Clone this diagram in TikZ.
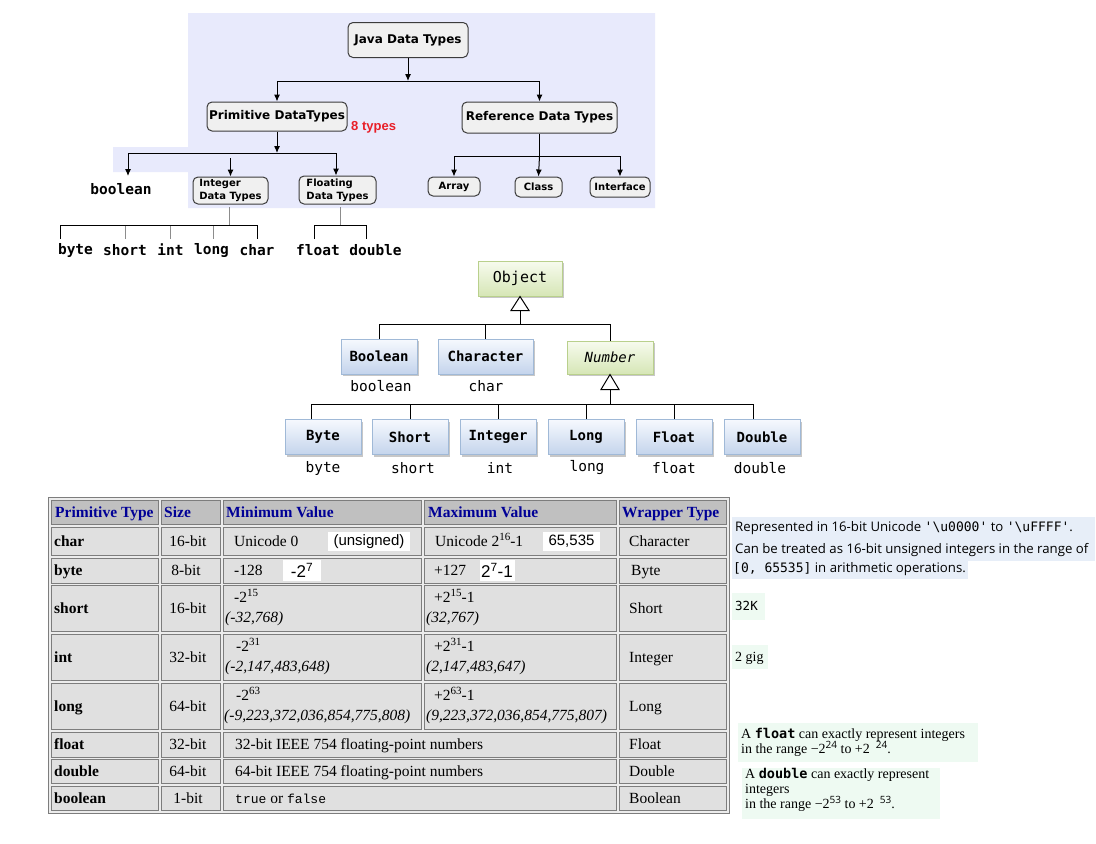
\documentclass[tikz,border=0pt]{standalone}
\usepackage{fontspec}
\setmainfont{Liberation Serif}
\newfontfamily\jtah{DejaVu Sans}
\newfontfamily\jmono{DejaVu Sans Mono}
\newfontfamily\jarial{Liberation Sans}
\newfontfamily\jseg{Open Sans}
\newfontfamily\jcour{Liberation Mono}
\usetikzlibrary{arrows.meta,shadows}
\newcommand{\jfs}[2]{\fontsize{#1}{#2}\selectfont}
\newcommand{\jsup}[1]{\raisebox{5.5pt}{\jfs{11}{11}#1}}
\newcommand{\jnsup}[1]{\raisebox{5pt}{\jseg\jfs{10}{10}#1}}
\definecolor{lav}{RGB}{232,234,252}
\definecolor{tbfill}{RGB}{240,240,240}
\definecolor{tbdraw}{RGB}{60,60,60}
\definecolor{eightred}{RGB}{232,30,40}
\definecolor{bluebd}{RGB}{160,185,215}
\definecolor{bluetop}{RGB}{246,249,254}
\definecolor{bluebot}{RGB}{196,212,236}
\definecolor{greenbd}{RGB}{185,208,140}
\definecolor{greentop}{RGB}{247,251,238}
\definecolor{greenbot}{RGB}{214,230,182}
\definecolor{hdrgray}{RGB}{192,192,192}
\definecolor{cellgray}{RGB}{224,224,224}
\definecolor{cellbd}{RGB}{125,125,125}
\definecolor{tblbg}{RGB}{236,236,236}
\definecolor{navy}{RGB}{0,0,150}
\definecolor{annblue}{RGB}{231,238,248}
\definecolor{mint}{RGB}{238,250,242}
\begin{document}
\begin{tikzpicture}[x=1pt,y=-1pt,
  ln/.style={line width=1pt, black},
  gln/.style={line width=1pt, black!45},
  arr/.style={line width=1pt, -{Latex[length=7pt,width=6pt]}},
  tbox/.style={draw=tbdraw, fill=tbfill, rounded corners=5pt, line width=1pt, inner sep=0pt, font=\jtah\bfseries\jfs{12}{13}, align=center},
  sbox/.style={tbox, font=\jtah\bfseries\jfs{10}{13}, align=left},
  tlbl/.style={font=\jmono\bfseries\jfs{14.5}{16}, inner sep=1pt},
  ubox/.style={draw=bluebd, top color=bluetop, bottom color=bluebot, line width=1pt, inner sep=0pt, minimum height=35pt, font=\jmono\bfseries\jfs{14}{16}, drop shadow={shadow xshift=2pt, shadow yshift=-2pt, fill=black, opacity=0.22}},
  gbox/.style={ubox, draw=greenbd, top color=greentop, bottom color=greenbot},
  ulbl/.style={font=\jmono\jfs{14.5}{16}, inner sep=1pt},
  tri/.style={draw, fill=white, line width=1pt},
  hcell/.style={fill=hdrgray, draw=cellbd, line width=1pt},
  dcell/.style={fill=cellgray, draw=cellbd, line width=1pt},
  thead/.style={anchor=base west, inner sep=0pt, font=\bfseries\jfs{15.5}{18}, text=navy},
  tdata/.style={anchor=base west, inner sep=0pt, font=\jfs{15.5}{18}},
  tbold/.style={tdata, font=\bfseries\jfs{15.5}{18}},
  tital/.style={tdata, font=\itshape\jfs{15.5}{18}},
  tsize/.style={anchor=base, inner sep=0pt, font=\jfs{15.5}{18}},
  wpatch/.style={fill=white, inner sep=0pt, font=\jarial\jfs{15}{17}},
  note/.style={anchor=base west, inner sep=0pt, font=\jfs{14}{15}},
  ann/.style={anchor=base west, inner sep=0pt, font=\jseg\jfs{13.2}{14}}
]
\useasboundingbox (0,0) rectangle (1096,844);
\fill[white] (0,0) rectangle (1096,844);

% ===== top tree =====
\fill[lav] (188,13) -- (655,13) -- (655,208) -- (188,208) -- (188,172) -- (113,172) -- (113,147) -- (188,147) -- cycle;

\node[tbox, minimum width=120pt, minimum height=35pt] (java) at (408,40) {Java Data Types};
\node[tbox, minimum width=140pt, minimum height=29pt] (prim) at (277,116.5) {Primitive DataTypes};
\node[tbox, minimum width=155pt, minimum height=31pt] (ref) at (539.5,117.5) {Reference Data Types};
\node[anchor=west, inner sep=0pt, font=\jarial\bfseries\jfs{13}{15}, text=eightred] (eight) at (351,127) {8 types};

\node[sbox, minimum width=75pt, minimum height=27pt] (intb) at (230.5,190.5) {Integer\\Data Types};
\node[sbox, minimum width=77pt, minimum height=28pt] (fltb) at (337.5,190) {Floating\\Data Types};
\node[sbox, minimum width=52pt, minimum height=19pt] (arrb) at (454,186.5) {Array};
\node[sbox, minimum width=47pt, minimum height=20pt] (clsb) at (538.5,187) {Class};
\node[sbox, minimum width=60pt, minimum height=20pt] (intf) at (620,187) {Interface};
\node[tlbl] (boolw) at (121,189) {boolean};

\coordinate (j1) at (408,81);
\draw[arr] (java.south) -- (j1);
\draw[ln] (prim.north |- j1) -- (ref.north |- j1);
\draw[arr] (prim.north |- j1) -- (prim.north);
\draw[arr] (ref.north |- j1) -- (ref.north);

\coordinate (p1) at (277,153);
\coordinate (pl) at (128,153);
\coordinate (pr) at (336,153);
\coordinate (btip) at (128,176);
\coordinate (i0) at (230.5,158);
\draw[arr] (prim.south) -- (p1);
\draw[ln] (pl) -- (pr);
\draw[arr] (pl) -- (btip);
\draw[arr] (i0) -- (intb.north);
\draw[arr] (pr) -- (pr |- fltb.north);

\coordinate (r1) at (539.5,156);
\draw[ln] (ref.south) -- (r1);
\draw[ln] (arrb.north |- r1) -- (intf.north |- r1);
\draw[arr] (arrb.north |- r1) -- (arrb.north);
\draw[arr] (r1) -- (clsb.north);
\draw[arr] (intf.north |- r1) -- (intf.north);

% integer subtree
\node[tlbl] (lbyte) at (75.5,250) {byte};
\node[tlbl] (lshort) at (125,250) {short};
\node[tlbl] (lint) at (170.5,250) {int};
\node[tlbl] (llong) at (211.5,250) {long};
\node[tlbl] (lchar) at (257,250) {char};
\coordinate (ih) at (229,225);
\draw[gln] (229,207) -- (ih);
\draw[ln] (60,225) -- (257,225);
\draw[ln] (60,225) -- (60,239);
\draw[ln] (257,225) -- (257,239);
\draw[gln] (125,226) -- (125,239);
\draw[gln] (170,226) -- (170,239);
\draw[gln] (213,226) -- (213,239);
% float subtree
\node[tlbl] (lfloat) at (318,250) {float};
\node[tlbl] (ldouble) at (375.5,250) {double};
\coordinate (fh) at (340,225);
\draw[gln] (340,207) -- (fh);
\draw[ln] (314,239) -- (314,225) -- (366,225) -- (366,239);

% ===== UML =====
\node[gbox, minimum width=84pt, font=\jmono\jfs{15}{17}] (obj) at (520,278.5) {Object};
\node[ubox, minimum width=76pt] (cBool) at (379,356.5) {Boolean};
\node[ubox, minimum width=95pt] (cChar) at (485.5,356.5) {Character};
\node[gbox, minimum width=86pt, minimum height=33pt, font=\jmono\itshape\jfs{14}{16}] (cNum) at (610,357.5) {Number};
\node[ulbl] (uBool) at (381,386) {boolean};
\node[ulbl] (uChar) at (486,386) {char};

\draw[tri] (obj.south) -- ++(-9,14) -- ++(18,0) -- cycle;
\coordinate (oh) at (520,324);
\draw[ln] ([yshift=-14pt]obj.south) -- (oh);
\draw[ln] (cBool.north |- oh) -- (cNum.north |- oh);
\draw[ln] (cBool.north |- oh) -- (cBool.north);
\draw[ln] (cChar.north |- oh) -- (cChar.north);
\draw[ln] (cNum.north |- oh) -- (cNum.north);

\node[ubox, minimum width=76pt] (cByte) at (323,437) {Byte};
\node[ubox, minimum width=76pt] (cShort) at (410,437) {Short};
\node[ubox, minimum width=76pt] (cInt) at (498,437) {Integer};
\node[ubox, minimum width=76pt] (cLong) at (586,437) {Long};
\node[ubox, minimum width=76pt] (cFloat) at (674,437) {Float};
\node[ubox, minimum width=76pt] (cDouble) at (762,437) {Double};
\node[ulbl] at (323,468) {byte};
\node[ulbl] at (413,468) {short};
\node[ulbl] at (500,468) {int};
\node[ulbl] at (587,468) {long};
\node[ulbl] at (674,468) {float};
\node[ulbl] at (760,468) {double};

\draw[tri] (cNum.south) -- ++(-9,15) -- ++(18,0) -- cycle;
\coordinate (nh) at (610,404);
\draw[ln] ([yshift=-15pt]cNum.south) -- (nh);
\coordinate (tb) at ([xshift=-12pt]cByte.north);
\coordinate (td) at ([xshift=-9pt]cDouble.north);
\draw[ln] (tb |- nh) -- (td |- nh);
\draw[ln] (tb |- nh) -- (tb);
\draw[ln] (cShort.north |- nh) -- (cShort.north);
\draw[ln] (cInt.north |- nh) -- (cInt.north);
\draw[ln] (cLong.north |- nh) -- (cLong.north);
\draw[ln] (cFloat.north |- nh) -- (cFloat.north);
\draw[ln] (td |- nh) -- (td);

% ===== table =====
\filldraw[fill=tblbg, draw=cellbd, line width=1pt] (48,497) rectangle (729,813);
\foreach \xa/\xb in {51/158,161/220,223/421,424/616,619/726}
  \filldraw[hcell] (\xa,500) rectangle (\xb,524);
\foreach \ya/\yb in {527/555,558/583,585/631,634/680,683/729}
  \foreach \xa/\xb in {51/158,161/220,223/421,424/616,619/726}
    \filldraw[dcell] (\xa,\ya) rectangle (\xb,\yb);
\foreach \ya/\yb in {732/757,759/783,786/810}
  \foreach \xa/\xb in {51/158,161/220,223/616,619/726}
    \filldraw[dcell] (\xa,\ya) rectangle (\xb,\yb);

\node[thead] at (55,517) {Primitive Type};
\node[thead] at (164,517) {Size};
\node[thead] at (226,517) {Minimum Value};
\node[thead] at (428,517) {Maximum Value};
\node[thead] at (622,517) {Wrapper Type};

% char
\node[tbold] at (54,546) {char};
\node[tsize] at (188,546) {16-bit};
\node[tdata] at (234,546) {Unicode 0};
\node[wpatch, minimum width=82pt, minimum height=19pt] at (369,541.5) {(unsigned)};
\node[tdata] at (435,546) {Unicode 2\jsup{16}-1};
\node[wpatch, minimum width=57pt, minimum height=19pt] at (571.5,541.5) {65,535};
\node[tdata] at (629,546) {Character};
% byte
\node[tbold] at (54,575) {byte};
\node[tsize] at (186,575) {8-bit};
\node[tdata] at (234,575) {-128};
\node[wpatch, minimum width=38pt, minimum height=21pt, font=\jarial\jfs{17}{19}] at (302,570.5) {-2\textsuperscript{7}};
\node[tdata] at (434,575) {+127};
\node[wpatch, minimum width=35pt, minimum height=21pt, font=\jarial\jfs{17}{19}] at (497,570.5) {2\textsuperscript{7}-1};
\node[tdata] at (631,575) {Byte};
% short
\node[tbold] at (54,613) {short};
\node[tsize] at (188,613) {16-bit};
\node[tdata] at (234,602) {-2\jsup{15}};
\node[tital] at (225,622) {(-32,768)};
\node[tdata] at (434,602) {+2\jsup{15}-1};
\node[tital] at (426,622) {(32,767)};
\node[tdata] at (629,613) {Short};
% int
\node[tbold] at (54,662) {int};
\node[tsize] at (188,662) {32-bit};
\node[tdata] at (236,651) {-2\jsup{31}};
\node[tital] at (225,671) {(-2,147,483,648)};
\node[tdata] at (434,651) {+2\jsup{31}-1};
\node[tital] at (426,671) {(2,147,483,647)};
\node[tdata] at (629,662) {Integer};
% long
\node[tbold] at (54,711) {long};
\node[tsize] at (188,711) {64-bit};
\node[tdata] at (236,700) {-2\jsup{63}};
\node[tital] at (224,720) {(-9,223,372,036,854,775,808)};
\node[tdata] at (434,700) {+2\jsup{63}-1};
\node[tital] at (426,720) {(9,223,372,036,854,775,807)};
\node[tdata] at (629,711) {Long};
% float
\node[tbold] at (54,749.5) {float};
\node[tsize] at (188,749.5) {32-bit};
\node[tdata] at (235,749.5) {32-bit IEEE 754 floating-point numbers};
\node[tdata] at (629,749.5) {Float};
% double
\node[tbold] at (54,776) {double};
\node[tsize] at (188,776) {64-bit};
\node[tdata] at (235,776) {64-bit IEEE 754 floating-point numbers};
\node[tdata] at (629,776) {Double};
% boolean
\node[tbold] at (54,803) {boolean};
\node[tsize] at (188,803) {1-bit};
\node[tdata] at (235,803) {{\jcour\jfs{13}{15}true} or {\jcour\jfs{13}{15}false}};
\node[tdata] at (629,803) {Boolean};

% ===== right annotations =====
\fill[annblue] (732,517) rectangle (1095,561);
\fill[annblue] (732,561) rectangle (968,579);
\node[ann] at (735,531) {Represented in 16-bit Unicode {\jmono\jfs{13}{14}\textquotesingle\textbackslash u0000\textquotesingle} to {\jmono\jfs{13}{14}\textquotesingle\textbackslash uFFFF\textquotesingle}.};
\node[ann] at (735,553) {Can be treated as 16-bit unsigned integers in the range of};
\node[ann] at (733,572) {{\jmono\jfs{13}{14}[0, 65535]} in arithmetic operations.};

\fill[mint] (732,593) rectangle (765,620);
\node[anchor=base west, inner sep=0pt, font=\jmono\jfs{12.5}{14}] at (735,610) {32K};
\fill[mint] (732,645) rectangle (768,669);
\node[anchor=base west, inner sep=0pt, font=\jfs{14}{16}] at (735,661) {2 gig};

\fill[mint] (738,723) rectangle (978,762);
\node[note] at (741,738) {A {\jmono\bfseries\jfs{13.5}{15}float} can exactly represent integers};
\node[note] at (741,753) {in the range \textminus2\jnsup{24} to +2\hspace{6pt}\jnsup{24}.};
\fill[mint] (742,768) rectangle (940,819);
\node[note] at (745,778) {A {\jmono\bfseries\jfs{13.5}{15}double} can exactly represent};
\node[note] at (745,793) {integers};
\node[note] at (745,808) {in the range \textminus2\jnsup{53} to +2\hspace{6pt}\jnsup{53}.};
\end{tikzpicture}
\end{document}
